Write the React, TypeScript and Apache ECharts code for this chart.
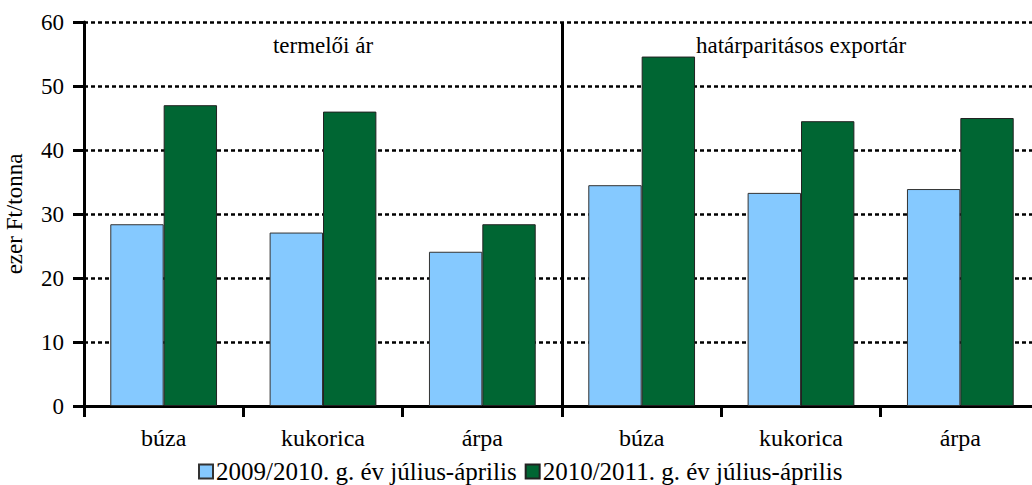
import React, { useEffect, useRef } from "react";
import * as echarts from "echarts";

const categories = ["búza", "kukorica", "árpa", "búza", "kukorica", "árpa"];
const panels = ["termelői ár", "határparitásos exportár"];
const seriesNames = ["2009/2010. g. év július-április", "2010/2011. g. év július-április"];
const values2009 = [28.4, 27.1, 24.1, 34.5, 33.3, 33.9];
const values2010 = [47.0, 46.0, 28.4, 54.6, 44.5, 45.0];
const yMin = 0;
const yMax = 60;
const yInterval = 10;

const FONT = "Liberation Serif";
const lbl = (size: number) => ({ fontFamily: FONT, fontSize: size, color: "#000" });

export default function App() {
  const ref = useRef<HTMLDivElement>(null);
  useEffect(() => {
    document.body.style.margin = "0";
    const chart = echarts.init(ref.current!, null, { renderer: "svg" });
    chart.setOption({
      animation: false,
      textStyle: { fontFamily: FONT, fontSize: 22, color: "#000" },
      grid: {
        left: 84,
        top: 22,
        bottom: 79,
        right: -8,
        containLabel: false,
        outerBoundsMode: "none",
      },
      legend: {
        left: 193,
        top: 454,
        itemWidth: 14,
        itemHeight: 14,
        itemGap: 8,
        icon: "rect",
        textStyle: { ...lbl(25), padding: [0, 0, 0, -2] },
        data: seriesNames,
      },
      xAxis: [
        {
          type: "category",
          data: categories,
          position: "bottom",
          axisLine: { show: true, lineStyle: { color: "#000", width: 3 } },
          axisTick: { show: true, length: 11, lineStyle: { color: "#000", width: 3 } },
          axisLabel: { ...lbl(24), margin: 20 },
          splitLine: { show: false },
        },
        {
          type: "category",
          data: panels,
          position: "top",
          axisLine: { show: false },
          axisTick: { show: false },
          axisLabel: { ...lbl(23), inside: true, margin: 12 },
          splitLine: { show: true, lineStyle: { color: "#000", width: 3, type: "solid" } },
        },
      ],
      yAxis: {
        type: "value",
        min: yMin,
        max: yMax,
        interval: yInterval,
        name: "ezer Ft/tonna",
        nameLocation: "middle",
        nameRotate: 90,
        nameGap: 58,
        nameTextStyle: { ...lbl(23) },
        axisLine: { show: true, lineStyle: { color: "#000", width: 3 } },
        axisTick: { show: true, length: 11, lineStyle: { color: "#000", width: 3 } },
        axisLabel: { ...lbl(23), margin: 20 },
        splitLine: { show: true, lineStyle: { color: "#000", width: 2.5, type: [4, 3] } },
      },
      series: [
        {
          name: seriesNames[0],
          type: "bar",
          xAxisIndex: 0,
          data: values2009,
          barGap: "0%",
          barCategoryGap: "33%",
          itemStyle: { color: "#85C9FF", borderColor: "#333", borderWidth: 1 },
        },
        {
          name: seriesNames[1],
          type: "bar",
          xAxisIndex: 0,
          data: values2010,
          barGap: "0%",
          barCategoryGap: "33%",
          itemStyle: { color: "#006633", borderColor: "#222", borderWidth: 1 },
        },
      ],
    });
    return () => chart.dispose();
  }, []);
  return <div ref={ref} style={{ width: 1032, height: 485 }} />;
}
